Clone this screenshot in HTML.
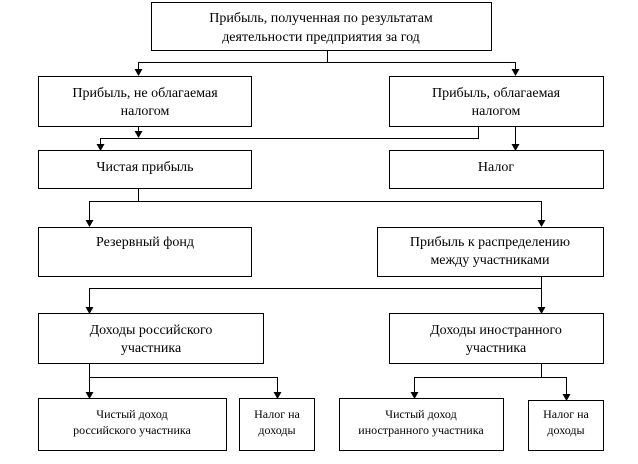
<!DOCTYPE html>
<html><head><meta charset="utf-8"><style>html,body{margin:0;padding:0;background:#fff}svg{display:block}</style></head>
<body>
<svg width="638" height="464" viewBox="0 0 638 464" xmlns="http://www.w3.org/2000/svg" font-family="'Liberation Serif', serif" fill="#000">
<defs><marker id="a" markerWidth="8" markerHeight="8" refX="4" refY="8" orient="auto" markerUnits="userSpaceOnUse"><path d="M0,0 L8,0 L4,8 z" transform="rotate(-90 4 4) translate(0 0)"/></marker></defs>
<g fill="#fff" stroke="#000" stroke-width="1">
<rect x="151.5" y="2.5" width="340" height="48"/>
<rect x="38.5" y="76.5" width="213" height="50"/>
<rect x="389.5" y="76.5" width="214" height="50"/>
<rect x="38.5" y="150.5" width="213" height="38"/>
<rect x="389.5" y="150.5" width="214" height="38"/>
<rect x="38.5" y="227.5" width="213" height="49"/>
<rect x="377.5" y="227.5" width="226" height="49"/>
<rect x="38.5" y="313.5" width="225" height="50"/>
<rect x="389.5" y="313.5" width="214" height="50"/>
<rect x="38.5" y="398.5" width="188" height="52"/>
<rect x="239.5" y="398.5" width="75" height="52"/>
<rect x="339.5" y="398.5" width="164" height="52"/>
<rect x="528.5" y="400.5" width="75" height="50"/>
</g>
<g stroke="#000" stroke-width="1" fill="none">
<path d="M327.5 50 V62.5 M138 62.5 H515.5 M138.5 62 V69 M515.5 62 V69"/>
<path d="M138.5 126 V131 M100.5 138.5 H478.5 V126 M100.5 138 V144 M515.5 126 V144"/>
<path d="M138.5 188 V201.5 M89.5 201.5 H541.5 M89.5 201 V220 M541.5 201 V220"/>
<path d="M541.5 276 V307 M89.5 288.5 H541.5 M89.5 288 V307"/>
<path d="M89.5 363 V392 M89.5 377.5 H277.5 V392"/>
<path d="M541.5 363 V377.5 M414.5 377.5 H566.5 M414.5 377 V392 M566.5 377 V394"/>
</g>
<g fill="#000">
<path d="M134.5 69 H142.5 L138.5 76 z"/><path d="M511.5 69 H519.5 L515.5 76 z"/>
<path d="M134.5 131 H142.5 L138.5 138 z"/>
<path d="M96.5 144 H104.5 L100.5 151 z"/><path d="M511.5 144 H519.5 L515.5 151 z"/>
<path d="M85.5 220 H93.5 L89.5 227 z"/><path d="M537.5 220 H545.5 L541.5 227 z"/>
<path d="M85.5 307 H93.5 L89.5 314 z"/><path d="M537.5 307 H545.5 L541.5 314 z"/>
<path d="M85.5 392 H93.5 L89.5 399 z"/><path d="M273.5 392 H281.5 L277.5 399 z"/>
<path d="M410.5 392 H418.5 L414.5 399 z"/><path d="M562.5 394 H570.5 L566.5 401 z"/>
</g>
<g font-size="14" text-anchor="middle">
<text x="321" y="22">Прибыль, полученная по результатам</text>
<text x="321" y="41">деятельности предприятия за год</text>
<text x="145" y="97">Прибыль, не облагаемая</text>
<text x="145" y="115">налогом</text>
<text x="496" y="97">Прибыль, облагаемая</text>
<text x="496" y="115">налогом</text>
<text x="145" y="171">Чистая прибыль</text>
<text x="496" y="171">Налог</text>
<text x="145" y="246">Резервный фонд</text>
<text x="490" y="246">Прибыль к распределению</text>
<text x="490" y="264">между участниками</text>
<text x="151" y="334">Доходы российского</text>
<text x="151" y="352">участника</text>
<text x="496" y="334">Доходы иностранного</text>
<text x="496" y="352">участника</text>
</g>
<g font-size="12" text-anchor="middle">
<text x="132" y="418">Чистый доход</text>
<text x="132" y="434">российского участника</text>
<text x="277" y="418">Налог на</text>
<text x="277" y="434">доходы</text>
<text x="421" y="418">Чистый доход</text>
<text x="421" y="434">иностранного участника</text>
<text x="566" y="418">Налог на</text>
<text x="566" y="434">доходы</text>
</g>
</svg>
</body></html>
